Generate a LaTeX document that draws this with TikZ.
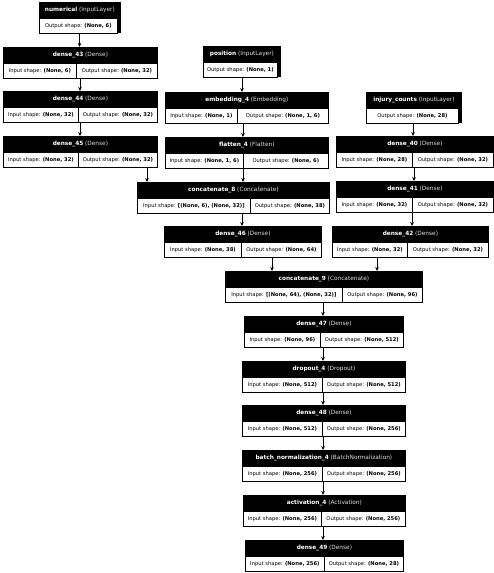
\documentclass[tikz,border=0pt]{standalone}
\usepackage{fontspec}
\setmainfont{DejaVu Sans}
\usetikzlibrary{arrows.meta}
\tikzset{
  head/.style={draw=black, fill=black, text=white, inner sep=0pt, minimum height=15pt,
    line width=0.8pt, font=\fontsize{5.8}{6}\selectfont},
  cell/.style={draw=black, fill=white, inner sep=0pt, minimum height=15pt,
    line width=0.8pt, font=\fontsize{5.2}{6}\selectfont},
  arr/.style={line width=0.8pt, -{Stealth[length=4pt,width=3.6pt]}},
}
\newcommand{\ktype}[1]{{\color{white!88!black}#1}}
\newcommand{\klayer}[9]{%
  \pgfmathsetmacro\kwall{#3-#2}%
  \pgfmathsetmacro\kwin{#4-#2}%
  \pgfmathsetmacro\kwout{#3-#4}%
  \node[head, minimum width=\kwall pt, anchor=north west] (#1) at (#2,#5) {\textbf{#6} \ktype{#7}};
  \node[cell, minimum width=\kwin pt, anchor=north west] (#1-in) at (#1.south west) {Input shape: \textbf{#8}};
  \node[cell, minimum width=\kwout pt, anchor=north east] (#1-out) at (#1.south east) {Output shape: \textbf{#9}};
}
\newcommand{\kinput}[6]{%
  \pgfmathsetmacro\kwall{#3-#2}%
  \pgfmathsetmacro\kwout{#3-#2-3}%
  \node[head, minimum width=\kwall pt, anchor=north west] (#1) at (#2,#4) {\textbf{#5} \ktype{(InputLayer)}};
  \fill[black] (#1.south east) rectangle ++(-3.5,15);
  \node[cell, minimum width=\kwout pt, anchor=north west] (#1-out) at (#1.south west) {Output shape: \textbf{#6}};
}
\newcommand{\karrow}[3]{%
  \path (#3,0) coordinate (kx);
  \draw[arr] (#1-out.south -| kx) -- (#2.north -| kx);
}
\begin{document}
\begin{tikzpicture}[x=1pt,y=-1pt]
\useasboundingbox[fill=white] (0,0) rectangle (494,573);

% left column
\kinput{numerical}{39}{120}{2}{numerical}{(None, 6)}
\klayer{d43}{3}{157}{76}{47}{dense\_43}{(Dense)}{(None, 6)}{(None, 32)}
\klayer{d44}{3}{157}{78}{91}{dense\_44}{(Dense)}{(None, 32)}{(None, 32)}
\klayer{d45}{3}{157}{78}{136}{dense\_45}{(Dense)}{(None, 32)}{(None, 32)}

% middle column
\kinput{position}{203}{280}{46}{position}{(None, 1)}
\klayer{emb}{165}{328}{237}{92}{embedding\_4}{(Embedding)}{(None, 1)}{(None, 1, 6)}
\klayer{flat}{165}{328}{243}{137}{flatten\_4}{(Flatten)}{(None, 1, 6)}{(None, 6)}
\klayer{c8}{137}{329}{250}{182}{concatenate\_8}{(Concatenate)}{[(None, 6), (None, 32)]}{(None, 38)}
\klayer{d46}{164}{321}{241}{226}{dense\_46}{(Dense)}{(None, 38)}{(None, 64)}

% right column
\kinput{injury}{366}{461}{92}{injury\_counts}{(None, 28)}
\klayer{d40}{336}{493}{412}{136}{dense\_40}{(Dense)}{(None, 28)}{(None, 32)}
\klayer{d41}{336}{493}{412}{181}{dense\_41}{(Dense)}{(None, 32)}{(None, 32)}
\klayer{d42}{332}{488}{407}{226}{dense\_42}{(Dense)}{(None, 32)}{(None, 32)}

% trunk
\klayer{c9}{225}{422}{342}{271}{concatenate\_9}{(Concatenate)}{[(None, 64), (None, 32)]}{(None, 96)}
\klayer{d47}{244}{403}{320}{316}{dense\_47}{(Dense)}{(None, 96)}{(None, 512)}
\klayer{drop}{242}{405}{322}{361}{dropout\_4}{(Dropout)}{(None, 512)}{(None, 512)}
\klayer{d48}{242}{405}{322}{405}{dense\_48}{(Dense)}{(None, 512)}{(None, 256)}
\klayer{bn}{242}{405}{322}{450}{batch\_normalization\_4}{(BatchNormalization)}{(None, 256)}{(None, 256)}
\klayer{act}{243}{405}{321}{495}{activation\_4}{(Activation)}{(None, 256)}{(None, 256)}
\klayer{d49}{245}{403}{324}{540}{dense\_49}{(Dense)}{(None, 256)}{(None, 28)}

% connectors
\karrow{numerical}{d43}{79.5}
\karrow{d43}{d44}{80}
\karrow{d44}{d45}{80}
\karrow{d45}{c8}{147}
\karrow{position}{emb}{242}
\karrow{emb}{flat}{243}
\karrow{flat}{c8}{243}
\karrow{c8}{d46}{242}
\karrow{d46}{c9}{272}
\karrow{injury}{d40}{413}
\karrow{d40}{d41}{414}
\karrow{d41}{d42}{412}
\karrow{d42}{c9}{377}
\karrow{c9}{d47}{323}
\karrow{d47}{drop}{323}
\karrow{drop}{d48}{323}
\karrow{d48}{bn}{323}
\karrow{bn}{act}{323}
\karrow{act}{d49}{323}
\end{tikzpicture}
\end{document}
